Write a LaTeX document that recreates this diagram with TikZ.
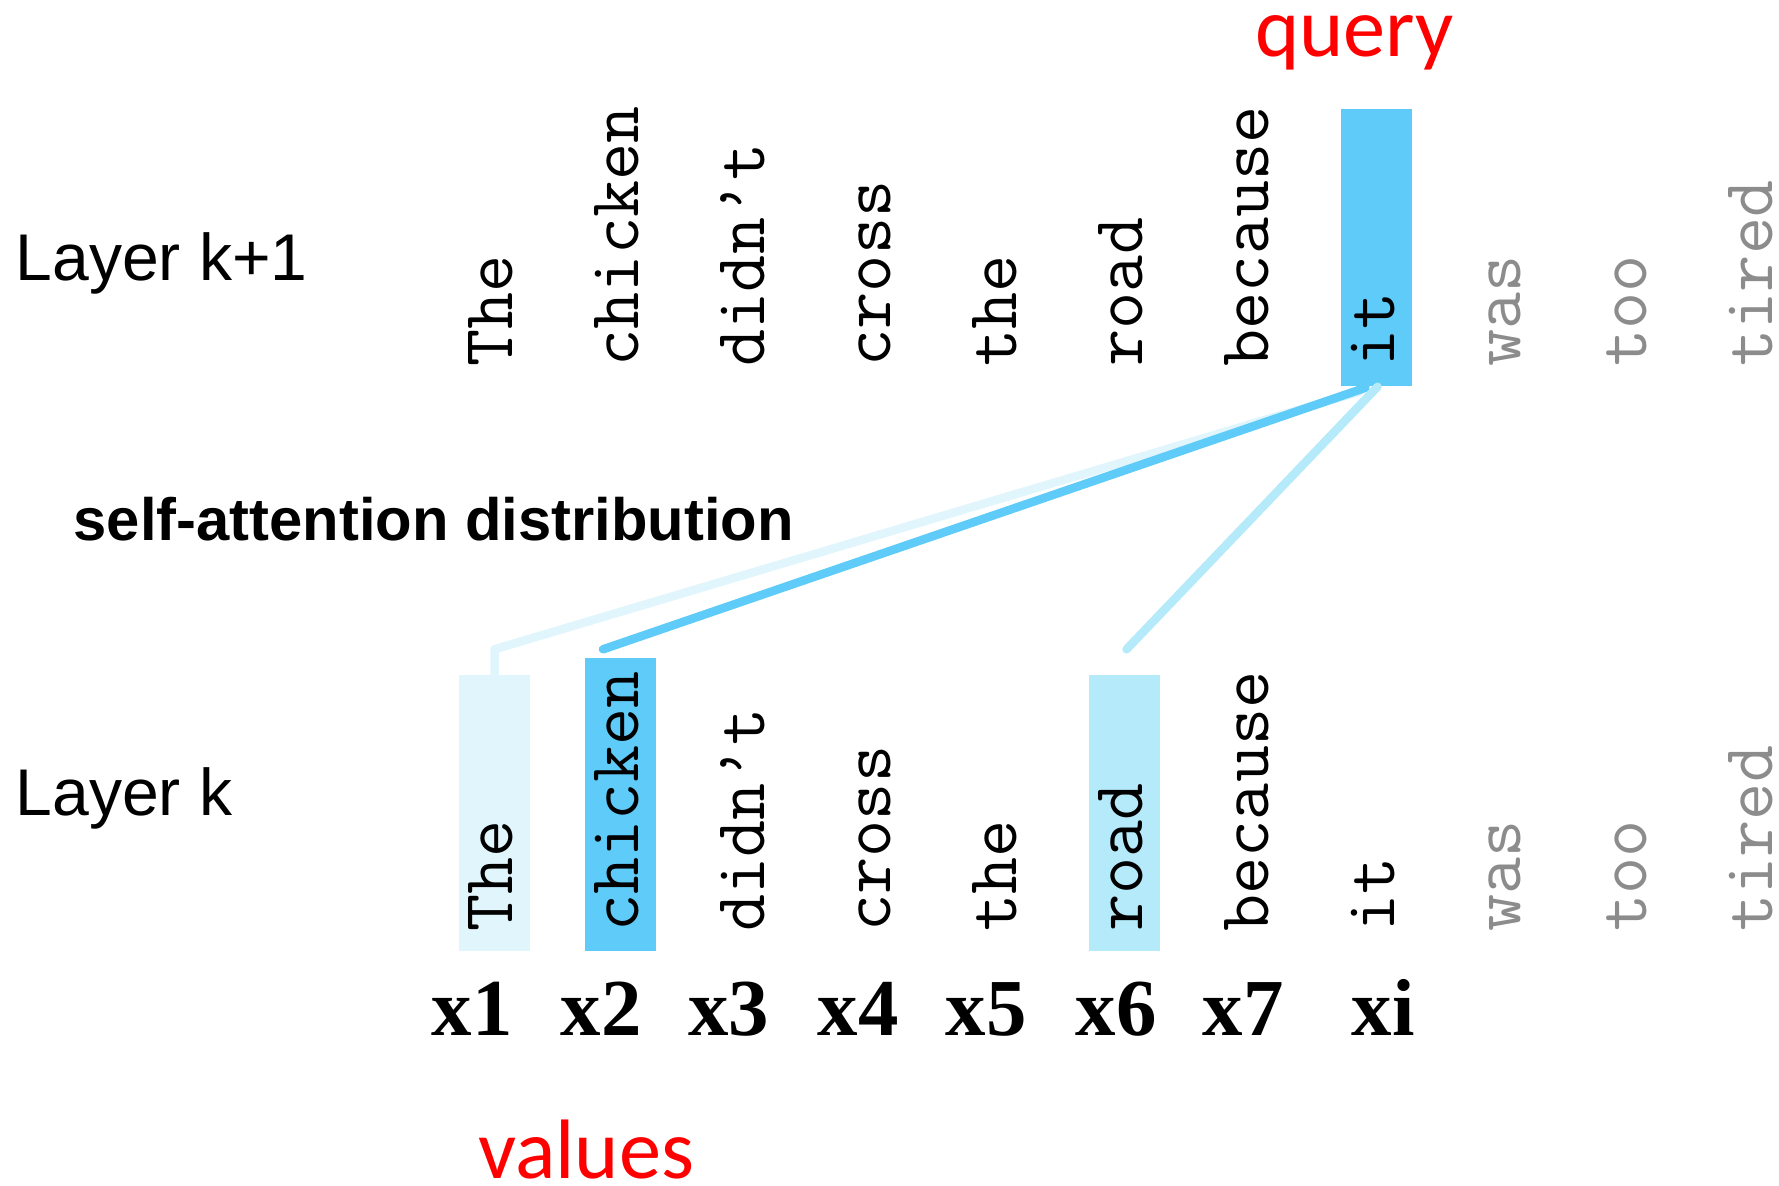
\documentclass[tikz,border=0pt]{standalone}
\usepackage{fontspec}
\setmainfont{Liberation Sans}
\newfontfamily\redfont{Carlito}
\newfontfamily\xfont{Liberation Serif}
\usepackage{tikz}
\usetikzlibrary{calc}
\usepackage{xcolor}
\definecolor{attDark}{HTML}{5ECBF8}
\definecolor{attMid}{HTML}{B4EAF9}
\definecolor{attPale}{HTML}{E0F5FC}
\definecolor{wordGray}{HTML}{8C8C8C}
\definecolor{keyRed}{HTML}{FF0000}
\tikzset{
  word/.style={rotate=90, anchor=base west, inner sep=0pt, font=\ttfamily\fontsize{20.5}{20.5}\selectfont},
  hl/.style={rectangle, inner sep=0pt, minimum width=7.1mm},
  layerlbl/.style={anchor=base west, inner sep=0pt, font=\fontsize{18.8}{20}\selectfont},
  xlbl/.style={anchor=base, inner sep=0pt, font=\xfont\bfseries\fontsize{23}{23}\selectfont},
  redlbl/.style={anchor=base, inner sep=0pt, text=keyRed, font=\redfont\fontsize{24}{24}\selectfont},
  att/.style={line width=0.85mm, line cap=round, line join=round}
}

\begin{document}
\begin{tikzpicture}[x=1cm,y=1cm]
  \useasboundingbox (0,0) rectangle (17.79,-11.85);
  % highlight boxes, under the words
  \node[hl, fill=attDark, minimum height=2.77cm] (hlIt) at (13.765,-2.475) {};
  \node[hl, fill=attPale, minimum height=2.76cm] (hlThe) at (4.945,-8.13) {};
  \node[hl, fill=attDark, minimum height=2.93cm] (hlChk) at (6.205,-8.045) {};
  \node[hl, fill=attMid, minimum height=2.76cm] (hlRoad) at (11.245,-8.13) {};

  % attention lines from the query down to the values
  \coordinate (bend) at ($(hlThe.north)+(0,0.25)$);
  \draw[att, draw=attPale] (hlThe.north) -- (bend) -- ($(hlIt.south)+(-0.17,-0.05)$);
  \draw[att, draw=attDark] ($(hlChk.north)+(-0.175,0.08)$) -- ($(hlIt.south)+(-0.11,-0.01)$);
  \draw[att, draw=attMid] ($(hlRoad.north)+(0.02,0.25)$) -- ($(hlIt.south)+(0.01,0)$);

  \foreach \w/\c [count=\i from 0] in {The/black,chicken/black,didn’t/black,cross/black,the/black,road/black,because/black,it/black,was/wordGray,too/wordGray,tired/wordGray}{
    \node[word, text=\c] (u\i) at (5.12+1.26*\i,-3.67) {\w};
    \node[word, text=\c] (l\i) at (5.12+1.26*\i,-9.32) {\w};
  }

  \node[layerlbl] (lblUp) at (0.15,-2.80) {Layer k+1};
  \node[layerlbl] (lblDn) at (0.15,-8.15) {Layer k};
  \node[anchor=base west, inner sep=0pt, font=\bfseries\fontsize{17}{17}\selectfont] (satt) at (0.73,-5.40) {self-attention distribution};

  \foreach \t/\x in {x1/4.72,x2/6.01,x3/7.285,x4/8.58,x5/9.86,x6/11.16,x7/12.43,xi/13.83}
    \node[xlbl] (lb\t) at (\x,-10.35) {\t};

  \node[redlbl] (qry) at (13.545,-0.56) {query};
  \node[redlbl] (vals) at (5.86,-11.78) {values};
\end{tikzpicture}
\end{document}
